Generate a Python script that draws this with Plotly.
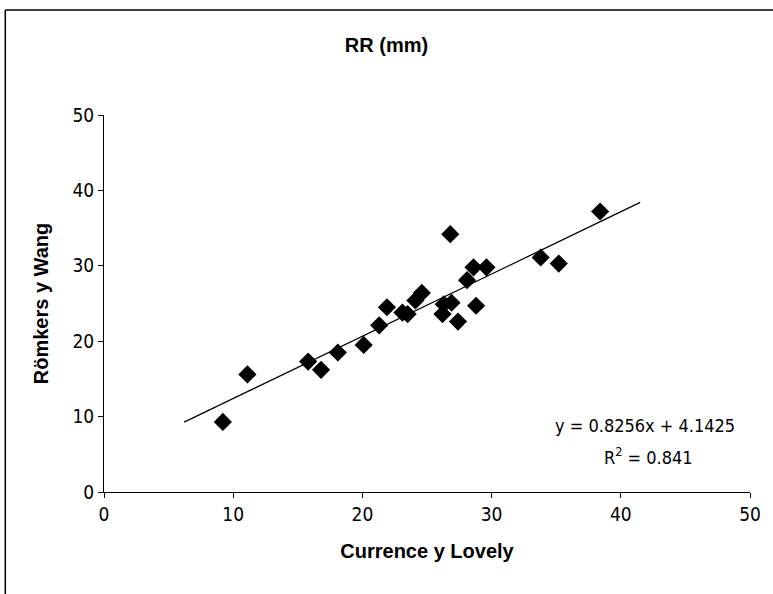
import plotly.graph_objects as go

# Data
currence_lovely = [9.2, 11.1, 15.8, 16.8, 18.1, 20.1, 21.3, 21.9, 23.1, 23.5, 24.1, 24.6,
                   26.2, 26.3, 26.9, 26.8, 27.4, 28.1, 28.6, 28.8, 29.6, 33.8, 35.2, 38.4]
romkers_wang = [9.3, 15.6, 17.3, 16.2, 18.5, 19.5, 22.1, 24.5, 23.8, 23.6, 25.4, 26.4,
                23.6, 24.9, 25.1, 34.2, 22.6, 28.1, 29.8, 24.7, 29.8, 31.1, 30.3, 37.2]
slope = 0.8256
intercept = 4.1425
r_squared = 0.841
trend_x = [6.2, 41.5]
trend_y = [slope * v + intercept for v in trend_x]
tick_vals = [0, 10, 20, 30, 40, 50]

W, H = 773, 594
L, R, T, B = 104, 21, 115, 102

fig = go.Figure()
fig.add_trace(go.Scatter(x=trend_x, y=trend_y, mode="lines",
                         line=dict(color="black", width=1.3), showlegend=False, hoverinfo="skip"))
fig.add_trace(go.Scatter(x=currence_lovely, y=romkers_wang, mode="markers",
                         marker=dict(symbol="diamond", size=14, color="black"), showlegend=False))

narrow = "DejaVu Sans Condensed, Liberation Sans Narrow, sans-serif"
bold = "Liberation Sans, Arial, sans-serif"
tick_font = dict(family=narrow, size=19, color="black")
axis_common = dict(range=[0, 50], tickvals=tick_vals, ticks="outside", ticklen=5, tickwidth=1,
                   tickcolor="black", showline=True, linecolor="black", linewidth=1,
                   showgrid=False, zeroline=False, tickfont=tick_font)

fig.update_layout(
    width=W, height=H,
    margin=dict(l=L, r=R, t=T, b=B),
    paper_bgcolor="white", plot_bgcolor="white",
    title=dict(text="<b>RR (mm)</b>", x=0.5, xanchor="center", y=1 - 45 / H, yanchor="middle",
               font=dict(family=bold, size=20, color="black")),
    xaxis=dict(**axis_common,
               title=dict(text="<b>Currence y Lovely</b>", standoff=20,
                          font=dict(family=bold, size=20, color="black"))),
    yaxis=dict(**axis_common,
               title=dict(text="<b>Römkers y Wang</b>", standoff=18,
                          font=dict(family=bold, size=20, color="black"))),
)

eq_font = dict(family=narrow, size=18, color="black")
fig.add_annotation(xref="paper", yref="paper", x=(647 - L) / (W - L - R), y=(H - B - 425) / (H - T - B),
                   text=f"y = {slope}x + {intercept}", showarrow=False, font=eq_font,
                   xanchor="center", yanchor="middle")
fig.add_annotation(xref="paper", yref="paper", x=(650 - L) / (W - L - R), y=(H - B - 456) / (H - T - B),
                   text=f"R<sup>2</sup> = {r_squared}", showarrow=False, font=eq_font,
                   xanchor="center", yanchor="middle")

# Chart-area border: top and left edges (right and bottom lie outside the picture)
pw, ph = W - L - R, H - T - B
bx0, by_top = (5 - L) / pw, (H - B - 10) / ph
fig.add_shape(type="line", xref="paper", yref="paper",
              x0=bx0, x1=(W + 5 - L) / pw, y0=by_top, y1=by_top,
              line=dict(color="black", width=1.5), layer="above")
fig.add_shape(type="line", xref="paper", yref="paper",
              x0=bx0, x1=bx0, y0=by_top, y1=(H - B - (H + 5)) / ph,
              line=dict(color="black", width=1.5), layer="above")

fig.write_html("out.html", config={"displayModeBar": False},
               post_script="document.body.style.margin='0';document.body.style.overflow='hidden';")
